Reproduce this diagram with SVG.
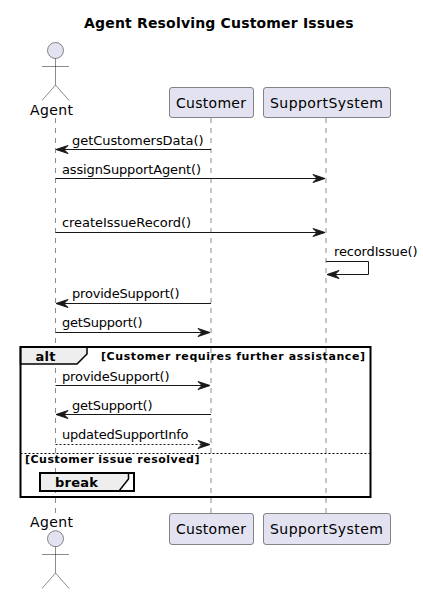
<svg xmlns="http://www.w3.org/2000/svg" width="423" height="594" viewBox="0 0 423 594">
<style>
text{font-family:"DejaVu Sans",sans-serif;fill:#000}
.t{font-size:14px;font-weight:bold}
.p{font-size:14px}
.m{font-size:13px}
.g{font-size:11px;font-weight:bold}
.h{font-size:13px;font-weight:bold}
.life{stroke:#181818;stroke-width:.5;stroke-dasharray:5 5;fill:none}
.box{fill:#E2E2F0;stroke:#181818;stroke-width:.5}
.act{fill:none;stroke:#181818;stroke-width:.5}
.msg{stroke:#181818;fill:none;stroke-width:1}
.head{fill:#181818;stroke:#181818;stroke-width:1}
.frame{fill:none;stroke:#000;stroke-width:2}
.tab{fill:#EEEEEE;stroke:#000;stroke-width:1.5}
</style>
<defs>
<marker id="r" markerUnits="userSpaceOnUse" markerWidth="14" markerHeight="12" refX="12" refY="5" orient="auto" overflow="visible"><polygon class="head" points="0,1 12,5 0,9 4,5"/></marker>
</defs>
<text class="t" x="84" y="28" textLength="269.500">Agent Resolving Customer Issues</text>
<g id="lifelines">
<line class="life" x1="55.500" y1="118" x2="55.500" y2="513"/>
<line class="life" x1="211" y1="118" x2="211" y2="513"/>
<line class="life" x1="326" y1="118" x2="326" y2="513"/>
</g>
<g id="connectors">
<line class="msg" x1="211" y1="149.500" x2="56" y2="149.500" marker-end="url(#r)"/>
<text class="m" x="72" y="145" textLength="131.500">getCustomersData()</text>
<line class="msg" x1="55.500" y1="178.500" x2="325" y2="178.500" marker-end="url(#r)"/>
<text class="m" x="62" y="174" textLength="139">assignSupportAgent()</text>
<line class="msg" x1="55.500" y1="232.500" x2="325" y2="232.500" marker-end="url(#r)"/>
<text class="m" x="62" y="227" textLength="129">createIssueRecord()</text>
<path class="msg" d="M326 261.500H368.500V274.500H327" marker-end="url(#r)"/>
<text class="m" x="334" y="256" textLength="83.500">recordIssue()</text>
<line class="msg" x1="211" y1="303.500" x2="56" y2="303.500" marker-end="url(#r)"/>
<text class="m" x="72" y="298" textLength="107.500">provideSupport()</text>
<line class="msg" x1="55.500" y1="332.500" x2="210" y2="332.500" marker-end="url(#r)"/>
<text class="m" x="62" y="327" textLength="80.500">getSupport()</text>
<line class="msg" x1="55.500" y1="385.500" x2="210" y2="385.500" marker-end="url(#r)"/>
<text class="m" x="62" y="381" textLength="107.500">provideSupport()</text>
<line class="msg" x1="211" y1="414.500" x2="56" y2="414.500" marker-end="url(#r)"/>
<text class="m" x="72" y="410" textLength="80.500">getSupport()</text>
<line class="msg" x1="55.500" y1="444.500" x2="210" y2="444.500" stroke-dasharray="2 2" marker-end="url(#r)"/>
<text class="m" x="62" y="439" textLength="126.500">updatedSupportInfo</text>
</g>
<g id="alt">
<path class="tab" d="M20.500 347H87V354L77 364H20.500Z"/>
<rect class="frame" x="20.500" y="347" width="350" height="150"/>
<text class="h" x="35.500" y="361" textLength="20">alt</text>
<text class="g" x="101" y="360" textLength="264">[Customer requires further assistance]</text>
<line x1="20.500" y1="453.500" x2="370.500" y2="453.500" stroke="#000" stroke-width="1" stroke-dasharray="2 2"/>
<text class="g" x="25" y="463" textLength="174.500">[Customer issue resolved]</text>
</g>
<g id="break">
<path class="tab" d="M40 473H128.500V479L119 491H40Z"/>
<rect class="frame" x="40" y="473" width="94" height="18"/>
<text class="h" x="55" y="487" textLength="43">break</text>
</g>
<g id="agent-top">
<circle class="box" cx="55.500" cy="50.500" r="8"/>
<path class="act" d="M55.500 58.500V85M42 66.500H69M42 100.500L55.500 85L69 100.500"/>
<text class="p" x="30" y="115" textLength="43">Agent</text>
</g>
<g id="customer-top">
<rect class="box" x="169.500" y="87.500" width="84" height="30" rx="2.500"/>
<text class="p" x="176" y="107.500" textLength="70">Customer</text>
</g>
<g id="support-top">
<rect class="box" x="263.500" y="87.500" width="127" height="30" rx="2.500"/>
<text class="p" x="270" y="107.500" textLength="113">SupportSystem</text>
</g>
<g id="agent-bottom">
<text class="p" x="30" y="527" textLength="43">Agent</text>
<circle class="box" cx="55.500" cy="538.700" r="8"/>
<path class="act" d="M55.500 546.700V573M42 554.500H69M42 588.500L55.500 573L69 588.500"/>
</g>
<g id="customer-bottom">
<rect class="box" x="169.500" y="513.500" width="84" height="31" rx="2.500"/>
<text class="p" x="176" y="534" textLength="70">Customer</text>
</g>
<g id="support-bottom">
<rect class="box" x="263.500" y="513.500" width="127" height="31" rx="2.500"/>
<text class="p" x="270" y="534" textLength="113">SupportSystem</text>
</g>
</svg>
